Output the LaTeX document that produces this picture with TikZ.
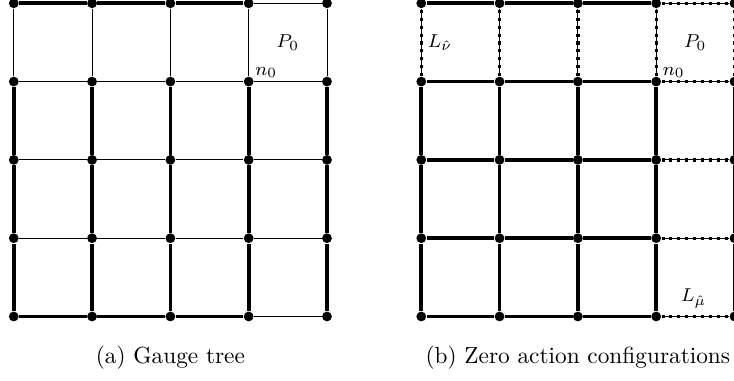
\documentclass[tikz,border=0pt]{standalone}
\usetikzlibrary{positioning}

\begin{document}
\begin{tikzpicture}[x=33.6pt, y=33.6pt,
  site/.style={circle, fill, inner sep=0pt, minimum size=4.2pt},
  tree/.style={line width=1.6pt},
  link/.style={line width=0.4pt},
  zero/.style={line width=0.4pt, postaction={draw, line width=1.4pt, dash pattern=on 1.3pt off 2.1pt}},
  lbl/.style={font=\footnotesize, inner sep=0pt}]
\useasboundingbox (-0.176,-0.814) rectangle (9.198,4.042);

\foreach \i in {0,...,4} {
  \foreach \j in {0,...,4} {
    \node[site] (a-\i-\j) at (\i,\j) {};
    \node[site] (b-\i-\j) at (5.204+\i,\j) {};
  }
}

% (a) gauge tree
\foreach \i [count=\k] in {0,1,2} {
  \draw[tree] (a-\i-0) -- (a-\k-0);
  \draw[tree] (a-\i-4) -- (a-\k-4);
}
\draw[link] (a-3-0) -- (a-4-0);
\draw[link] (a-3-4) -- (a-4-4);
\foreach \j in {1,2,3} {
  \foreach \i [count=\k] in {0,...,3}
    \draw[link] (a-\i-\j) -- (a-\k-\j);
}
\foreach \i in {0,...,4} {
  \foreach \j [count=\k] in {0,1,2}
    \draw[tree] (a-\i-\j) -- (a-\i-\k);
  \draw[link] (a-\i-3) -- (a-\i-4);
}

% (b) zero action
\foreach \j in {0,...,4} {
  \foreach \i [count=\k] in {0,1,2}
    \draw[tree] (b-\i-\j) -- (b-\k-\j);
  \draw[zero] (b-3-\j) -- (b-4-\j);
}
\foreach \i in {0,...,4} {
  \foreach \j [count=\k] in {0,1,2}
    \draw[tree] (b-\i-\j) -- (b-\i-\k);
  \draw[zero] (b-\i-3) -- (b-\i-4);
}

\node[lbl] (pa) at (3.5,3.5) {$P_0$};
\node[lbl, anchor=base west] (na) at ([shift={(2.7pt,2.7pt)}]a-3-3.center) {$n_0$};
\node[lbl] (pb) at (8.704,3.5) {$P_0$};
\node[lbl, anchor=base west] (nb) at ([shift={(2.7pt,2.7pt)}]b-3-3.center) {$n_0$};
\node[lbl] (lnu) at (5.444,3.5) {$L_{\hat\nu}$};
\node[lbl] (lmu) at (8.684,0.23) {$L_{\hat\mu}$};

\node (capa) at (2,-0.52) {(a) Gauge tree};
\node (capb) at (7.204,-0.52) {(b) Zero action configurations};
\end{tikzpicture}
\end{document}
